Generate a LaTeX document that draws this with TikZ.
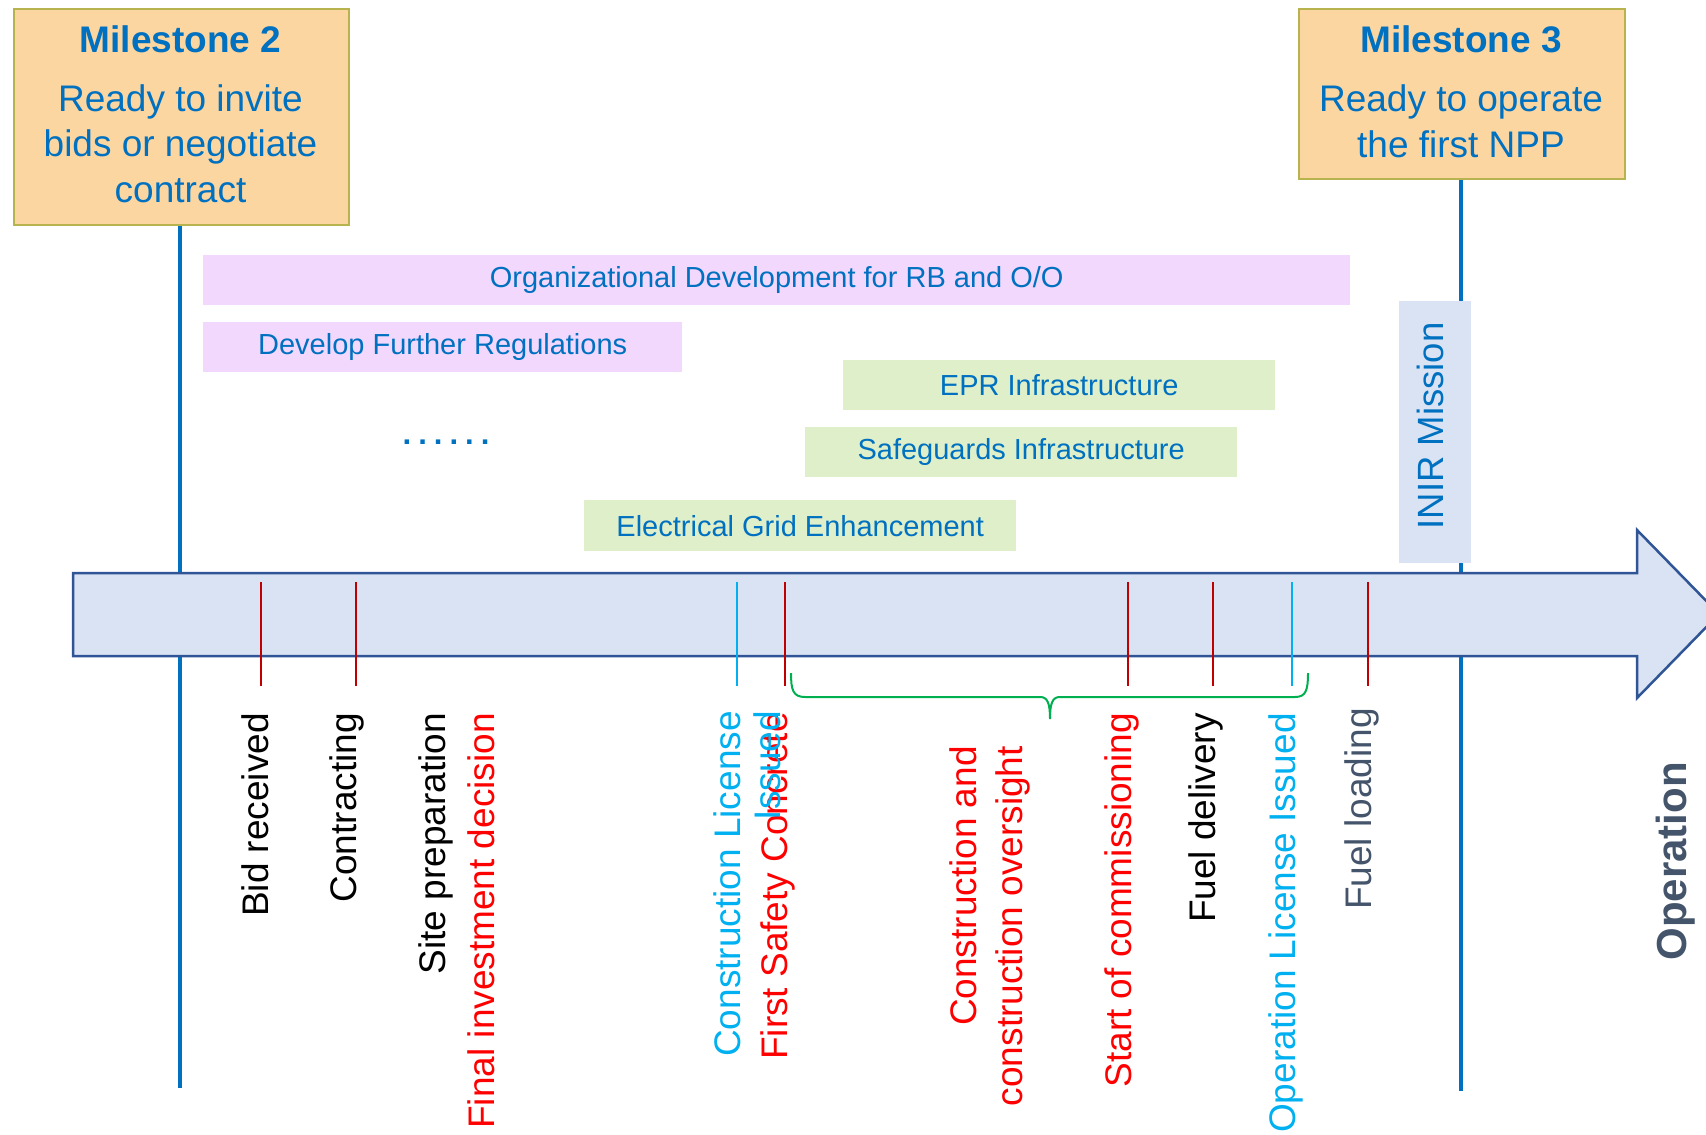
\documentclass[tikz,border=0pt]{standalone}
\usepackage{fontspec}
\setmainfont{Liberation Sans}
\definecolor{msfill}{HTML}{FCD6A0}
\definecolor{msborder}{HTML}{B7B44F}
\definecolor{nblue}{HTML}{0070C0}
\definecolor{purplebar}{HTML}{F2D8FC}
\definecolor{greenbar}{HTML}{DEEFC9}
\definecolor{arrowfill}{HTML}{DAE3F3}
\definecolor{arrowline}{HTML}{2F5597}
\definecolor{tickred}{HTML}{C00000}
\definecolor{cyantxt}{HTML}{00B0F0}
\definecolor{redtxt}{HTML}{FF0000}
\definecolor{slate}{HTML}{44546A}
\definecolor{bracegreen}{HTML}{00B050}
\begin{document}
\begin{tikzpicture}[x=1pt,y=-1pt,
  msbox/.style={draw=msborder, line width=2pt, fill=msfill, inner sep=0pt, anchor=north west},
  mstext/.style={text=nblue, align=center, inner sep=0pt, anchor=base, font=\fontsize{37}{45.5}\selectfont},
  msline/.style={draw=nblue, line width=4pt},
  bar/.style={inner sep=0pt, anchor=north west, minimum height=50pt, text=nblue, font=\fontsize{29}{35}\selectfont},
  pbar/.style={bar, fill=purplebar},
  gbar/.style={bar, fill=greenbar, minimum width=432pt},
  lab/.style={rotate=90, anchor=base east, inner sep=0pt, font=\fontsize{37}{44}\selectfont},
  redtick/.style={draw=tickred, line width=2pt},
  cyantick/.style={draw=cyantxt, line width=2pt}
]
\useasboundingbox (0,0) rectangle (1706,1135);
% milestone boxes
\node[msbox, minimum width=335pt, minimum height=216pt] (m2) at (13,8) {};
\node[mstext] (m2t) at (180.5,202) {\textbf{Milestone 2}\\[13.5pt]Ready to invite\\bids or negotiate\\contract};
\node[msbox, minimum width=326pt, minimum height=170pt] (m3) at (1298,8) {};
\node[mstext] (m3t) at (1461,157) {\textbf{Milestone 3}\\[13.5pt]Ready to operate\\the first NPP};
% milestone vertical lines
\coordinate (m2end) at (180,1088);
\coordinate (m3end) at (1461,1091);
\draw[msline] (m2.south -| m2end) -- (m2end);
\draw[msline] (m3.south -| m3end) -- (m3end);
% INIR mission
\node[fill=arrowfill, inner sep=0pt, anchor=north west, minimum width=72pt, minimum height=262pt] (inir) at (1399,301) {};
\node[rotate=90, inner sep=0pt, anchor=base, text=nblue, font=\fontsize{36.5}{44}\selectfont] (inirt) at (1443,426) {INIR Mission};
% bars
\node[pbar, minimum width=1147pt] (org) at (203,255) {Organizational Development for RB and O/O};
\node[pbar, minimum width=479pt] (reg) at (203,322) {Develop Further Regulations};
\node[gbar] (epr) at (843,360) {EPR Infrastructure};
\node[gbar] (safe) at (805,427) {Safeguards Infrastructure};
\node[gbar, minimum height=51pt] (grid) at (584,500) {Electrical Grid Enhancement};
\node[inner sep=0pt, anchor=base, text=nblue, font=\fontsize{31}{35}\selectfont\bfseries] (dots) at (446,444) {.\kern7pt.\kern7pt.\kern7pt.\kern7pt.\kern7pt.};
% main arrow
\draw[fill=arrowfill, draw=arrowline, line width=2.5pt, line join=miter]
  (73,573) -- (1637,573) -- (1637,530) -- (1719,614) -- (1637,698) -- (1637,656) -- (73,656) -- cycle;
% ticks
\draw[redtick] (261,582) -- (261,686);
\draw[redtick] (356,582) -- (356,686);
\draw[cyantick] (737,582) -- (737,686);
\draw[redtick] (785,582) -- (785,686);
\draw[redtick] (1128,582) -- (1128,686);
\draw[redtick] (1213,582) -- (1213,686);
\draw[cyantick] (1292,582) -- (1292,686);
\draw[redtick] (1368,582) -- (1368,686);
% brace
\draw[draw=bracegreen, line width=2pt]
  (791,673) .. controls (791,690) and (793,697) .. (805,697) -- (1040,697)
  .. controls (1047,697) and (1050,702) .. (1050,719)
  .. controls (1050,702) and (1053,697) .. (1060,697) -- (1295,697)
  .. controls (1306,697) and (1308,690) .. (1308,673);
% labels
\node[lab] (bid) at (268,713) {Bid received};
\node[lab] (con) at (356,713) {Contracting};
\node[lab] (site) at (445,713) {Site preparation};
\node[lab, text=redtxt] (fid) at (494,713) {Final investment decision};
\node[lab, text=redtxt] (fsc) at (787,712) {First Safety Concrete};
\node[lab, text=cyantxt, align=right, font=\fontsize{37}{40}\selectfont] (cli) at (780,711) {Construction License\\Issued};
\node[lab, text=redtxt, align=right, font=\fontsize{37}{46}\selectfont] (cco) at (1022,746) {Construction and\\construction oversight};
\node[lab, text=redtxt] (soc) at (1131,713) {Start of commissioning};
\node[lab] (fdel) at (1215,713) {Fuel delivery};
\node[lab, text=cyantxt] (oli) at (1295,713) {Operation License Issued};
\node[lab, text=slate] (fload) at (1371,708) {Fuel loading};
\node[lab, text=slate, font=\fontsize{42}{50}\selectfont\bfseries] (op) at (1686,762) {Operation};
\end{tikzpicture}
\end{document}
